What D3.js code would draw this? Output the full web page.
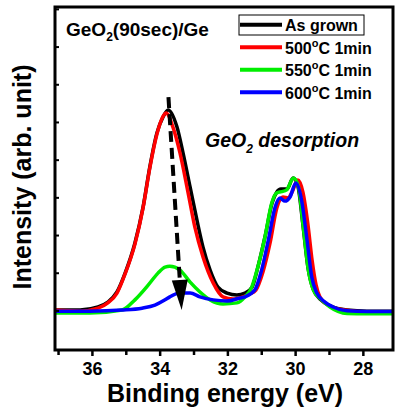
<!DOCTYPE html>
<html lang="en">
<head>
    <title>GeO2 XPS</title>
    <script src="https://d3js.org/d3.v7.min.js"></script>
    <style>
        body { margin: 0; background: #fff; }
        text { font-family: "Liberation Sans", Arial, sans-serif; font-weight: bold; }
    </style>
</head>
<body>
  <svg width=396 height=411></svg>
    <script>
        // binding energy (eV) / intensity (arb.)
        let asGrownE = [37.09, 36.35, 35.82, 35.53, 35.26, 35.02, 34.73, 34.49, 34.29, 34.08, 33.90, 33.75, 33.49, 33.31, 33.10, 32.90, 32.72, 32.51, 32.28, 32.01, 31.72, 31.48, 31.27, 31.10, 30.89, 30.68, 30.54, 30.42, 30.24, 30.06, 29.92, 29.77, 29.62, 29.47, 29.24, 28.97, 28.47, 27.88, 27.11];
        let asGrownI = [1.01, 1.01, 1.09, 1.22, 1.49, 1.99, 2.79, 3.74, 4.81, 5.71, 6.13, 6.32, 5.87, 5.18, 4.27, 3.40, 2.68, 2.07, 1.62, 1.46, 1.41, 1.46, 1.62, 2.15, 2.95, 3.85, 4.14, 4.22, 4.22, 4.51, 4.30, 3.27, 2.13, 1.57, 1.28, 1.12, 1.01, 0.98, 0.98];

        let t500E = [37.09, 36.35, 35.82, 35.53, 35.26, 35.02, 34.73, 34.49, 34.29, 34.08, 33.90, 33.81, 33.61, 33.40, 33.16, 32.96, 32.72, 32.42, 32.13, 31.83, 31.54, 31.33, 31.16, 30.95, 30.74, 30.54, 30.36, 30.21, 30.09, 29.92, 29.77, 29.62, 29.50, 29.38, 29.27, 29.03, 28.53, 27.88, 27.11];
        let t500I = [1.01, 0.98, 1.06, 1.20, 1.46, 1.97, 2.76, 3.72, 4.78, 5.68, 6.15, 6.24, 5.87, 5.18, 4.12, 3.21, 2.42, 1.73, 1.36, 1.30, 1.36, 1.44, 1.54, 2.02, 2.79, 3.72, 4.01, 3.98, 4.14, 4.46, 4.14, 3.27, 2.34, 1.67, 1.36, 1.14, 1.01, 0.96, 0.96];

        let t550E = [37.09, 36.06, 35.11, 34.73, 34.34, 34.05, 33.84, 33.70, 33.40, 33.10, 32.81, 32.51, 32.13, 31.72, 31.48, 31.28, 31.10, 30.89, 30.69, 30.54, 30.40, 30.25, 30.05, 29.90, 29.76, 29.61, 29.46, 29.22, 28.97, 28.47, 27.88, 27.11];
        let t550I = [0.93, 0.93, 1.01, 1.28, 1.67, 1.99, 2.15, 2.17, 2.07, 1.75, 1.49, 1.28, 1.17, 1.20, 1.36, 1.62, 2.15, 2.95, 3.85, 4.12, 4.15, 4.20, 4.51, 4.27, 3.21, 2.07, 1.54, 1.28, 1.09, 0.92, 0.91, 0.91];

        let t600E = [37.09, 36.06, 35.11, 34.52, 34.14, 33.84, 33.70, 33.40, 33.10, 32.81, 32.42, 32.01, 31.63, 31.48, 31.19, 30.99, 30.79, 30.59, 30.45, 30.30, 30.15, 29.98, 29.81, 29.66, 29.51, 29.36, 29.12, 28.88, 28.47, 27.88, 27.11];
        let t600I = [0.98, 0.98, 1.01, 1.06, 1.14, 1.28, 1.36, 1.46, 1.46, 1.36, 1.28, 1.25, 1.33, 1.36, 1.54, 2.07, 2.87, 3.74, 3.98, 3.90, 4.01, 4.38, 3.93, 2.95, 1.89, 1.46, 1.22, 1.09, 0.99, 0.97, 0.97];

        let seriesNames = ["As grown", "500", "550", "600"];
        let seriesColors = ["#000000", "#ff0000", "#00ee00", "#0000ff"];
        let majorTicks = [36, 34, 32, 30, 28];
        let minorTicks = [37, 35, 33, 31, 29];
        let yTicks = [1, 2, 3, 4, 5, 6, 7, 8, 9];

        let series = [
            d3.zip(asGrownE, asGrownI),
            d3.zip(t500E, t500I),
            d3.zip(t550E, t550I),
            d3.zip(t600E, t600I)
        ];

        let svg = d3.select("svg");
        let x = d3.scaleLinear().domain([37.09, 27.11]).range([55, 393]);
        let y = d3.scaleLinear().domain([-0.05, 9.05]).range([350, 7]);

        svg.append("clipPath").attr("id", "plot")
           .append("rect").attr("x", 55).attr("y", 7).attr("width", 338).attr("height", 343);

        // curves
        let line = d3.line()
           .x(d => x(d[0]))
           .y(d => y(d[1]))
           .curve(d3.curveMonotoneX);

        svg.append("g").attr("clip-path", "url(#plot)")
           .selectAll("path")
           .data(series)
           .enter()
           .append("path")
           .attr("d", line)
           .attr("fill", "none")
           .attr("stroke", (d, i) => seriesColors[i])
           .attr("stroke-width", 3.5)
           .attr("stroke-linejoin", "round");

        // dashed arrow
        let ax0 = x(33.74), ay0 = y(6.66), ax1 = x(33.35), ay1 = y(1.01);
        let ang = Math.atan2(ay1 - ay0, ax1 - ax0);
        let headLen = 30, headW = 8;
        let bx = ax1 - headLen * Math.cos(ang), by = ay1 - headLen * Math.sin(ang);
        svg.append("line")
           .attr("x1", ax0).attr("y1", ay0).attr("x2", bx).attr("y2", by)
           .attr("stroke", "black").attr("stroke-width", 4)
           .attr("stroke-dasharray", "11,6");
        let nx = -Math.sin(ang), ny = Math.cos(ang);
        svg.append("path")
           .attr("d", `M${ax1},${ay1}L${bx + nx * headW},${by + ny * headW}L${bx - nx * headW},${by - ny * headW}Z`)
           .attr("fill", "black");

        // x axis ticks
        let xAxis = d3.axisBottom(x).tickValues(majorTicks).tickSize(6).tickPadding(5).tickFormat(d3.format("d"));
        let gx = svg.append("g").attr("transform", "translate(0,350)").call(xAxis);
        gx.select(".domain").remove();
        gx.selectAll("line").attr("stroke-width", 2.5);
        gx.selectAll("text").attr("font-size", 18).attr("font-weight", "bold").attr("fill", "black")
           .attr("font-family", "Liberation Sans, Arial, sans-serif")
           .attr("dy", null).attr("y", 25);
        let gxm = svg.append("g").attr("transform", "translate(0,350)")
           .call(d3.axisBottom(x).tickValues(minorTicks).tickSize(5).tickFormat(""));
        gxm.select(".domain").remove();
        gxm.selectAll("line").attr("stroke-width", 2.5);

        // y ticks (inward, no labels)
        let gy = svg.append("g").attr("transform", "translate(55,0)")
           .call(d3.axisRight(y).tickValues(yTicks).tickSize(4).tickFormat(""));
        gy.select(".domain").remove();
        gy.selectAll("line").attr("stroke-width", 2);

        // frame
        svg.append("rect")
           .attr("x", 55).attr("y", 7).attr("width", 338).attr("height", 343)
           .attr("fill", "none").attr("stroke", "black").attr("stroke-width", 3);

        // axis titles
        svg.append("text")
           .attr("x", 225).attr("y", 402)
           .attr("text-anchor", "middle")
           .attr("font-size", 25)
           .text("Binding energy (eV)");
        svg.append("text")
           .attr("transform", "translate(31,177) rotate(-90)")
           .attr("text-anchor", "middle")
           .attr("font-size", 25)
           .text("Intensity (arb. unit)");

        // sample label
        let title = svg.append("text").attr("x", 66).attr("y", 36).attr("font-size", 19);
        title.append("tspan").text("GeO");
        title.append("tspan").attr("dy", 5).attr("font-size", 12).text("2");
        title.append("tspan").attr("dy", -5).text("(90sec)/Ge");

        // annotation
        let note = svg.append("text").attr("x", 205).attr("y", 147).attr("font-size", 19.5).attr("font-style", "italic");
        note.append("tspan").text("GeO");
        note.append("tspan").attr("dy", 6).attr("font-size", 12).text("2");
        note.append("tspan").attr("dy", -6).text(" desorption");

        // legend
        svg.append("rect")
           .attr("x", 239).attr("y", 15).attr("width", 125).attr("height", 20)
           .attr("fill", "none").attr("stroke", "black").attr("stroke-width", 1);
        let legend = svg.append("g").selectAll("g")
           .data(seriesNames)
           .enter()
           .append("g")
           .attr("transform", (d, i) => `translate(0,${24.7 + i * 22.5})`);
        legend.append("line")
           .attr("x1", 240).attr("x2", 282).attr("y1", 0).attr("y2", 0)
           .attr("stroke", (d, i) => seriesColors[i])
           .attr("stroke-width", 4);
        let lt = legend.append("text").attr("x", 285).attr("y", 6.5).attr("font-size", 16);
        lt.each(function(d, i) {
            let t = d3.select(this);
            if (i === 0) { t.text(d); return; }
            t.append("tspan").text(d);
            t.append("tspan").attr("dy", -7).attr("font-size", 11).text("o");
            t.append("tspan").attr("dy", 7).text("C 1min");
        });
    </script>
</body>
</html>
